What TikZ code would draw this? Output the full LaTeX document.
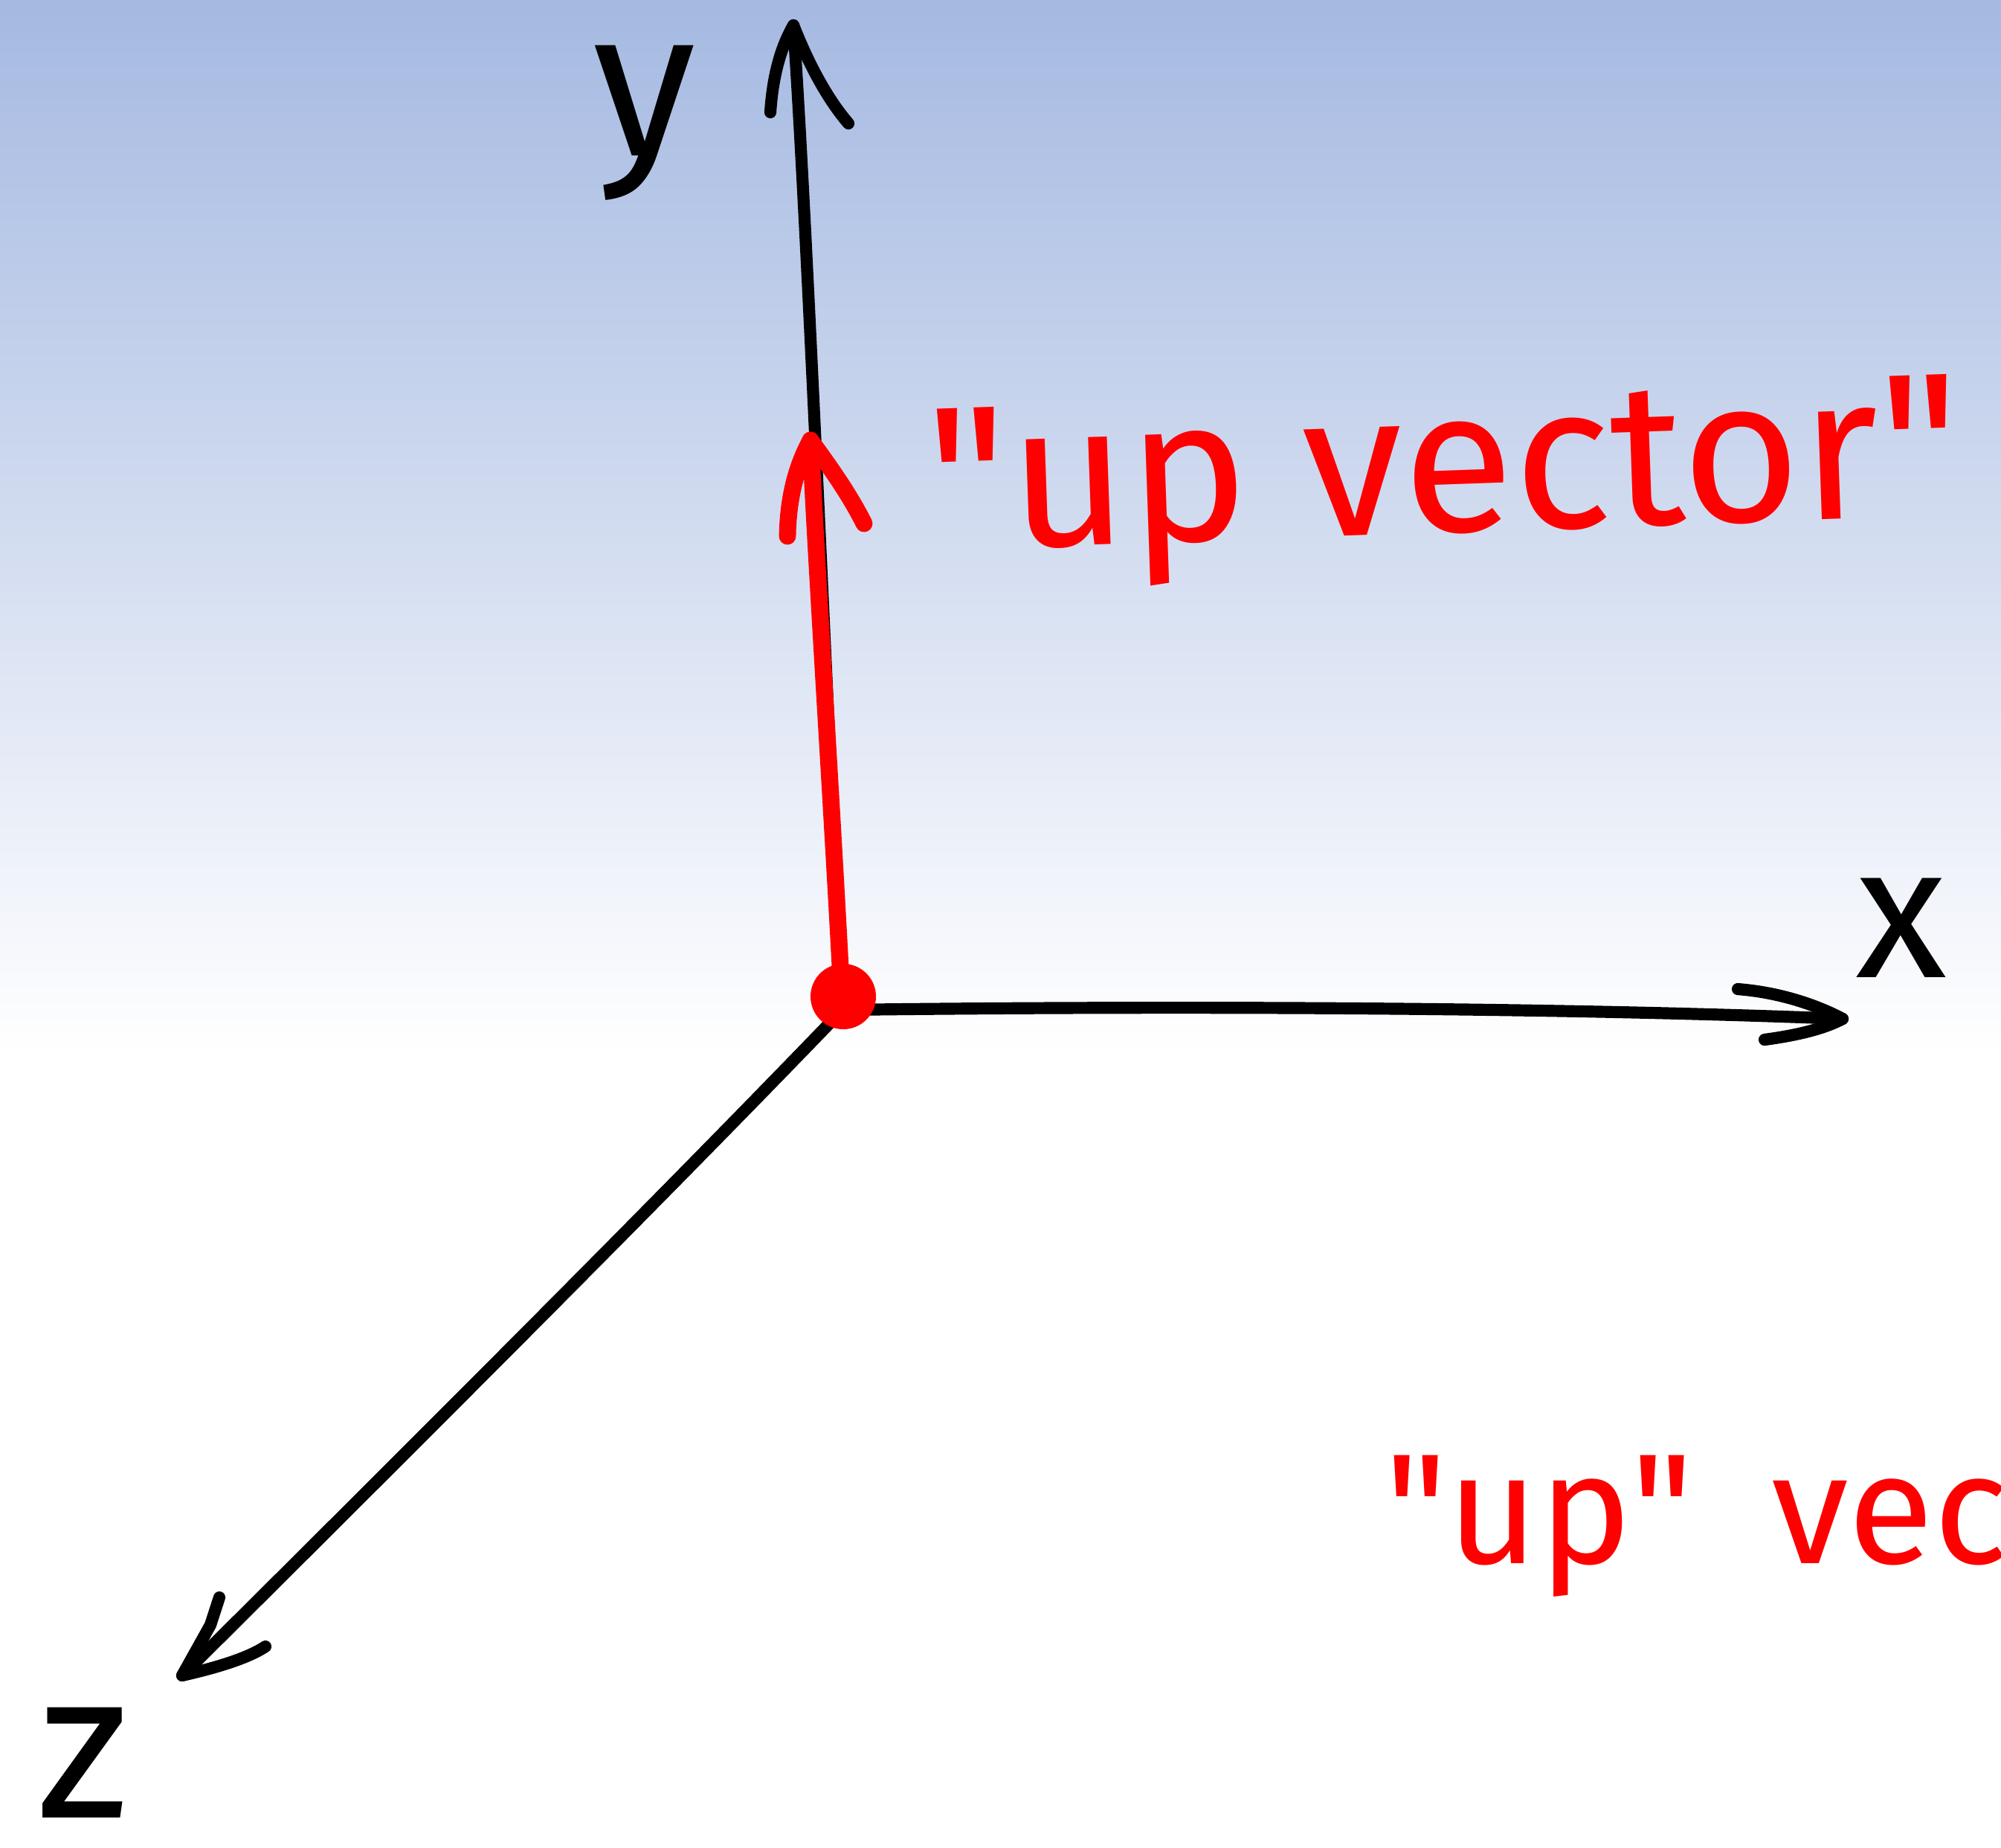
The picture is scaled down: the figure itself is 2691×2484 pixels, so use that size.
\documentclass[tikz,border=0pt]{standalone}
\usepackage{fontspec}
\setmainfont{Fira Sans}
\newfontfamily\hand{Fira Sans}[Ligatures=TeXOff]
\usetikzlibrary{arrows.meta}
\definecolor{skytop}{RGB}{165,185,225}
\begin{document}
\begin{tikzpicture}[x=0.01cm,y=-0.01cm,
  axis/.style={line width=4.6pt, line cap=round, line join=round, black},
  upvec/.style={line width=6.5pt, line cap=round, line join=round, red},
  axlabel/.style={inner sep=0pt, text=black},
  redlabel/.style={inner sep=0pt, text=red, anchor=base west}]
\useasboundingbox (0,0) rectangle (2691,2484);
\clip (0,0) rectangle (2691,2484);
\shade[top color=skytop, bottom color=white] (0,0) rectangle (2691,1420);
\fill[white] (0,1420) rectangle (2691,2484);
% axes
\coordinate (O) at (1133,1358);
\coordinate (Y) at (1067,34);
\coordinate (X) at (2478,1370);
\coordinate (Z) at (245,2253);
\coordinate (U) at (1090,592);
\coordinate (yl) at (1036,151);
\coordinate (yr) at (1141,166);
\coordinate (xl) at (2337,1330);
\coordinate (xr) at (2373,1398);
\coordinate (zl) at (295,2148);
\coordinate (zr) at (357,2214);
\coordinate (ul) at (1059,721);
\coordinate (ur) at (1162,704);
\draw[axis] (O) .. controls (1105,800) and (1085,300) .. (Y);
\draw[axis] (yl) .. controls (1040,90) and (1055,55) .. (Y) .. controls (1085,80) and (1110,130) .. (yr);
\draw[axis] (O) .. controls (1600,1352) and (2100,1355) .. (X);
\draw[axis] (xl) .. controls (2400,1335) and (2450,1355) .. (X) .. controls (2450,1385) and (2410,1393) .. (xr);
\draw[axis] (O) .. controls (900,1600) and (600,1900) .. (Z);
\draw[axis] (zr) .. controls (330,2232) and (280,2245) .. (Z) -- (283,2185) -- (zl);
% up vector
\draw[upvec] (O) .. controls (1120,1100) and (1100,800) .. (U);
\draw[upvec] (ul) .. controls (1060,660) and (1075,620) .. (U) .. controls (1110,620) and (1140,660) .. (ur);
\fill[red] (1134,1340) circle (44);
% labels
\node[axlabel, font=\fontsize{80}{80}\selectfont] (ylab) at (867,165) {y};
\node[axlabel, font=\fontsize{72}{72}\selectfont] (xlab) at (2557,1248) {x};
\node[axlabel, font=\fontsize{80}{80}\selectfont] (zlab) at (112,2370) {z};
\node[redlabel, rotate=2, font=\hand\fontsize{78}{78}\selectfont] (uptext) at (1250,740) {"up vector"};
\node[redlabel, font=\hand\fontsize{60}{60}\selectfont] (uptext2) at (1862,2102) {"up"\hspace{0.5em}vec};
\end{tikzpicture}
\end{document}
